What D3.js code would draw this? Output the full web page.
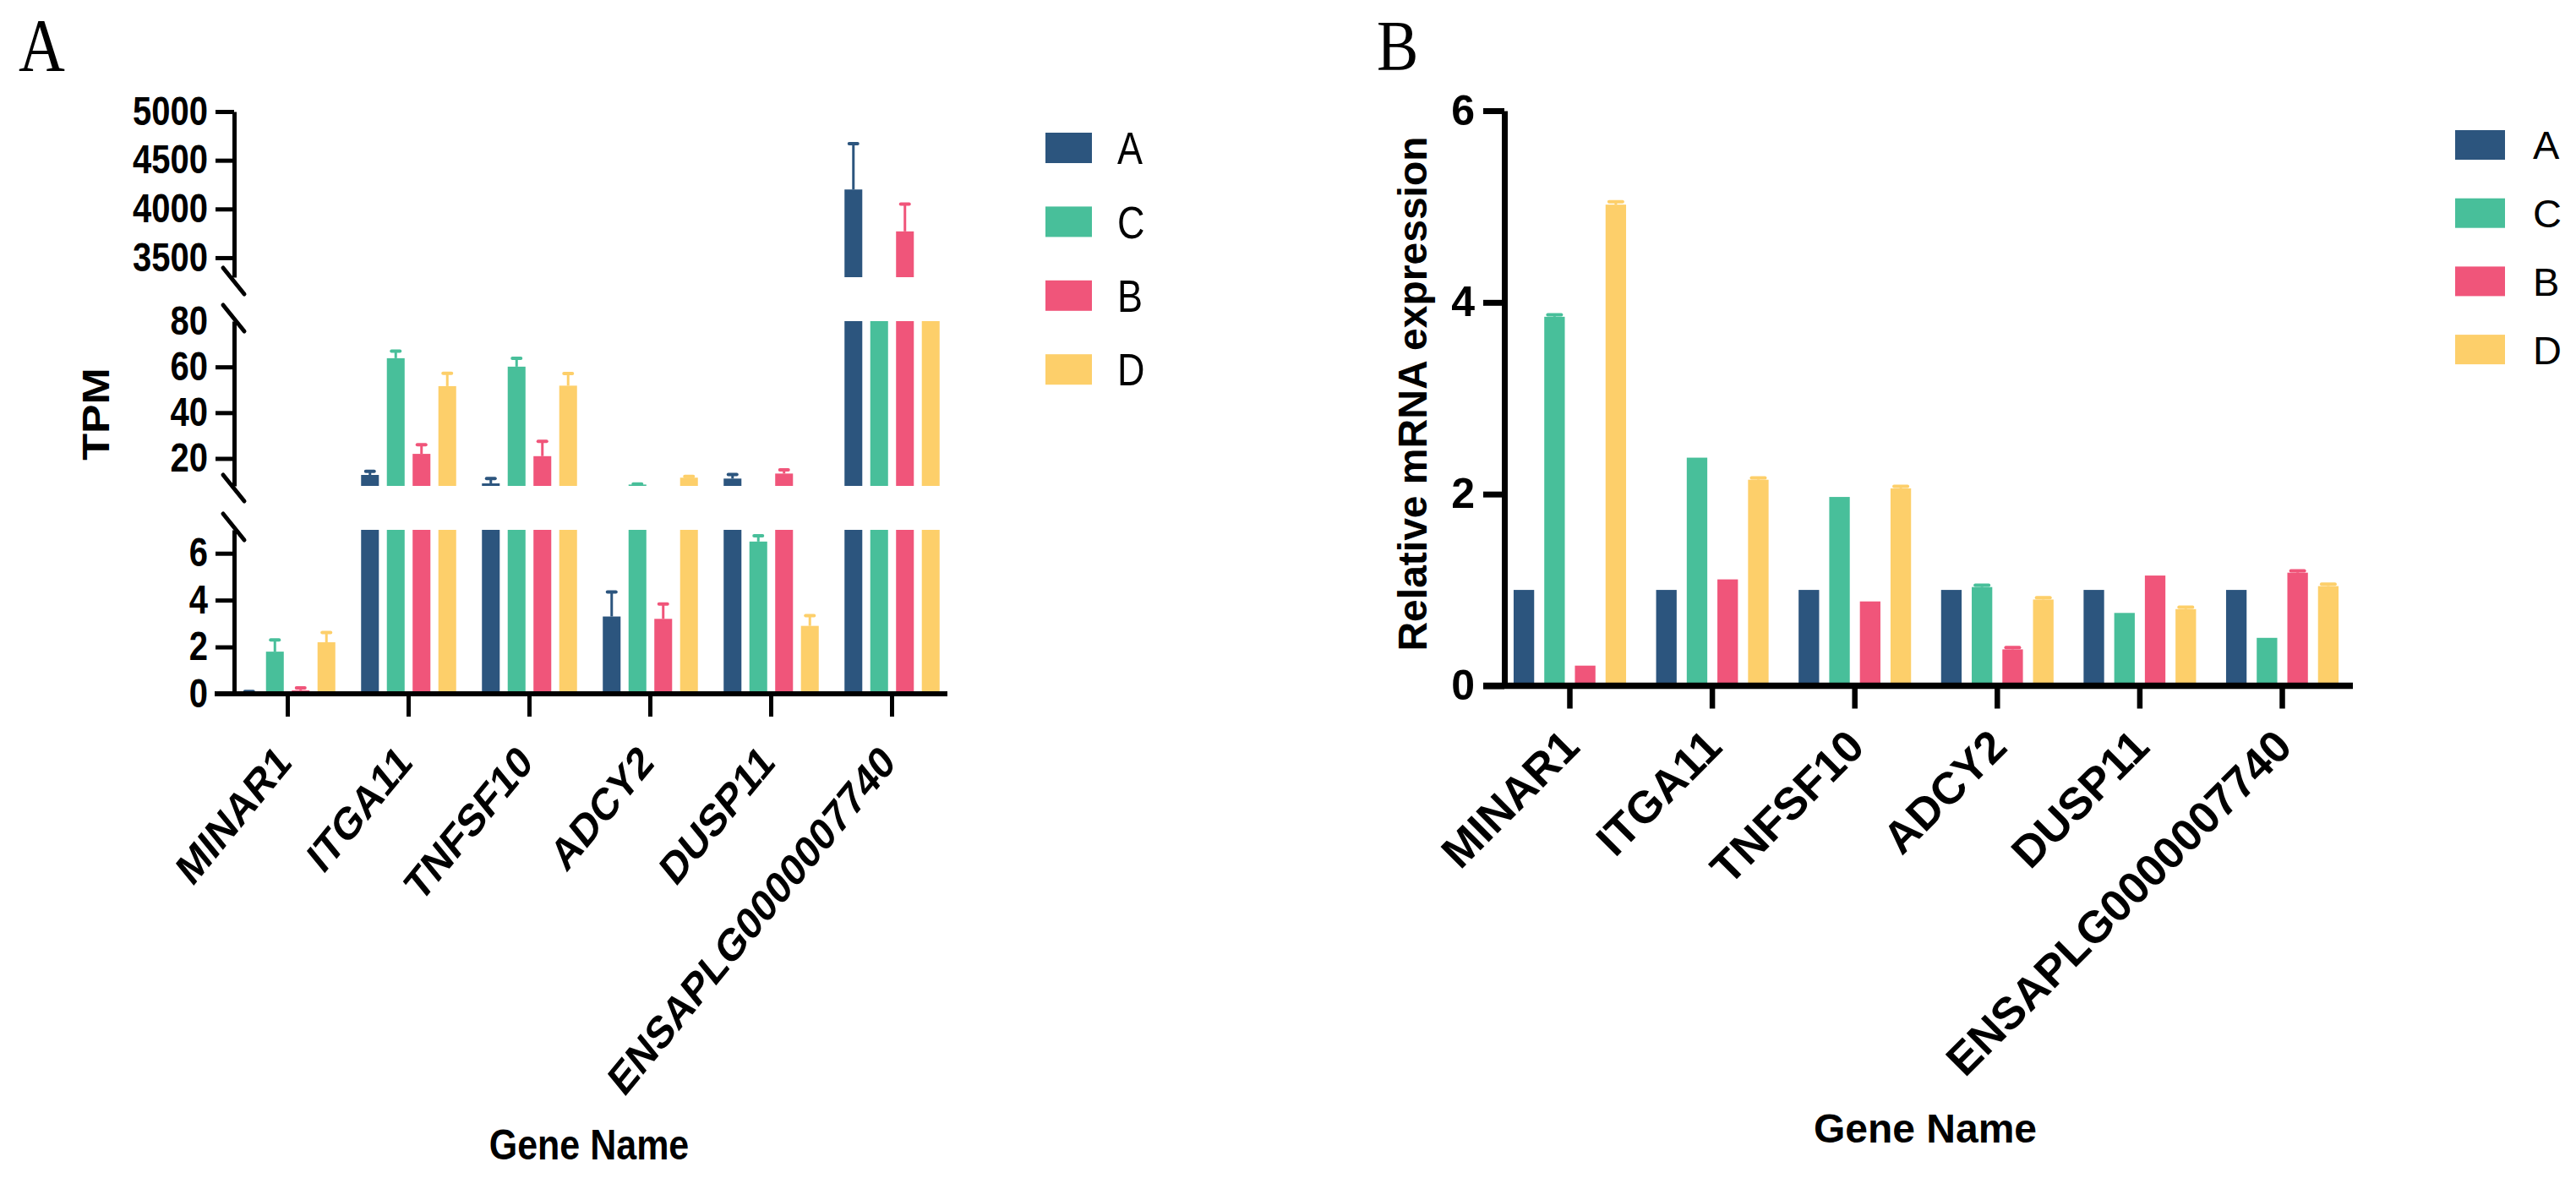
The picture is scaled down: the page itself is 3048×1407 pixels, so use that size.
<!DOCTYPE html>
<html>
<head>
<meta charset="utf-8">
<script src="https://cdn.jsdelivr.net/npm/d3@7"></script>
<style>
  body { margin: 0; background: #fff; }
  svg text { font-family: "Liberation Sans", Arial, sans-serif; fill: #000; }
</style>
</head>
<body>
<div id="viz"></div>
<script>
// genes on the x axis, and the four groups in legend order
var genes = ["MINAR1", "ITGA11", "TNFSF10", "ADCY2", "DUSP11", "ENSAPLG0000007740"];
var groups = ["A", "C", "B", "D"];
var groupColors = ["#2C557E", "#48BF9A", "#F0557A", "#FDCF6A"];

// panel A : TPM (mean, + sd)
var tpmA = [0.05, 12.8, 9.1, 3.3, 11.2, 4200];
var tpmC = [1.8, 63.8, 60.1, 8.6, 6.5, 900];
var tpmB = [0.15, 22.0, 21.0, 3.2, 13.4, 3770];
var tpmD = [2.2, 51.6, 51.8, 11.6, 2.9, 850];
var tpmErrA = [0.05, 1.6, 2.1, 1.05, 1.8, 470];
var tpmErrC = [0.5, 3.1, 3.7, 0.2, 0.25, 0];
var tpmErrB = [0.1, 4.0, 6.5, 0.63, 1.6, 280];
var tpmErrD = [0.42, 5.6, 5.3, 0.6, 0.44, 0];

// broken y axis of panel A : three pieces
var tpmSegments = [[0, 7], [8, 80], [3300, 5000]];
var tpmTicks = [[0, 2, 4, 6], [20, 40, 60, 80], [3500, 4000, 4500, 5000]];

// panel B : relative mRNA expression
var relA = [1, 1, 1, 1, 1, 1];
var relC = [3.85, 2.38, 1.97, 1.03, 0.76, 0.50];
var relB = [0.21, 1.11, 0.88, 0.38, 1.15, 1.18];
var relD = [5.02, 2.15, 2.06, 0.90, 0.80, 1.04];
var relErrA = [0, 0, 0, 0, 0, 0];
var relErrC = [0.02, 0, 0, 0.02, 0, 0];
var relErrB = [0, 0, 0, 0.02, 0, 0.02];
var relErrD = [0.03, 0.02, 0.02, 0.02, 0.02, 0.02];
var relTicks = [0, 2, 4, 6];

// panel A of the original is stretched vertically, its texts too
var SY_A = 1.18;
var SY_A_LABELS = 1.22;

var svg = d3.select("#viz").append("svg")
    .attr("width", 3048)
    .attr("height", 1407);

function stretch(x, y, rot, sy) {
    return "translate(" + x + "," + y + ") scale(1," + sy + ")" + (rot ? " rotate(" + rot + ")" : "");
}

function makeRows(means, errs) {
    return genes.map(function(g, i) {
        return {
            gene: g,
            bars: groups.map(function(k, j) {
                return {key: k, color: groupColors[j], v: means[j][i], e: errs[j][i]};
            })
        };
    });
}

// bars + error bars that fall in [lo, hi] of a y scale
function drawBars(g, rows, x0, x1, y, lo, hi, errW, capW) {
    var grp = g.append("g").selectAll("g")
        .data(rows)
        .enter()
        .append("g")
        .attr("transform", function(d) { return "translate(" + x0(d.gene) + ",0)"; });

    grp.selectAll("rect")
        .data(function(d) { return d.bars.filter(function(b) { return b.v > lo; }); })
        .enter()
        .append("rect")
        .attr("x", function(b) { return x1(b.key); })
        .attr("width", x1.bandwidth())
        .attr("y", function(b) { return y(Math.min(b.v, hi)); })
        .attr("height", function(b) { return y(lo) - y(Math.min(b.v, hi)); })
        .attr("fill", function(b) { return b.color; });

    var errs = function(d) {
        return d.bars.filter(function(b) { return b.e > 0 && b.v < hi && b.v + b.e > lo; });
    };
    var cx = function(b) { return x1(b.key) + x1.bandwidth() / 2; };

    grp.selectAll("line.err")
        .data(errs)
        .enter()
        .append("line")
        .attr("class", "err")
        .attr("x1", cx).attr("x2", cx)
        .attr("y1", function(b) { return y(Math.max(b.v, lo)); })
        .attr("y2", function(b) { return y(Math.min(b.v + b.e, hi)); })
        .attr("stroke", function(b) { return b.color; })
        .attr("stroke-width", errW);

    grp.selectAll("line.cap")
        .data(function(d) { return errs(d).filter(function(b) { return b.v + b.e <= hi; }); })
        .enter()
        .append("line")
        .attr("class", "cap")
        .attr("x1", function(b) { return cx(b) - capW / 2; })
        .attr("x2", function(b) { return cx(b) + capW / 2; })
        .attr("y1", function(b) { return y(b.v + b.e); })
        .attr("y2", function(b) { return y(b.v + b.e); })
        .attr("stroke", function(b) { return b.color; })
        .attr("stroke-width", errW + 1)
        .attr("stroke-linecap", "round");
}

function styleYAxis(a, width, fontSize, sy) {
    a.select(".domain").attr("stroke", "#000").attr("stroke-width", width);
    a.selectAll(".tick line").attr("stroke", "#000").attr("stroke-width", width);
    a.selectAll(".tick text")
        .attr("font-size", fontSize)
        .attr("font-weight", "bold")
        .attr("transform", "scale(1," + sy + ")");
}

function drawXAxis(g, x0, axisY, x1, x2, width, tickLen, labelDx, labelDy, fontSize, sy) {
    g.append("line")
        .attr("x1", x1).attr("x2", x2)
        .attr("y1", axisY).attr("y2", axisY)
        .attr("stroke", "#000")
        .attr("stroke-width", width);

    var a = g.append("g")
        .attr("transform", "translate(0," + axisY + ")")
        .call(d3.axisBottom(x0).tickSize(tickLen).tickSizeOuter(0));
    a.select(".domain").remove();
    a.selectAll(".tick line").attr("stroke", "#000").attr("stroke-width", width - 1);
    a.selectAll(".tick text")
        .attr("x", null).attr("y", null).attr("dy", null)
        .attr("text-anchor", "end")
        .attr("font-size", fontSize)
        .attr("font-weight", "bold")
        .attr("transform", stretch(labelDx, labelDy, -45, sy));
}

function drawLegend(g, x, y, w, h, step, textX, fontSize, sy) {
    var item = g.append("g").selectAll("g")
        .data(groups)
        .enter()
        .append("g")
        .attr("transform", function(d, i) { return "translate(" + x + "," + (y + i * step) + ")"; });

    item.append("rect")
        .attr("width", w)
        .attr("height", h)
        .attr("fill", function(d, i) { return groupColors[i]; });

    item.append("text")
        .attr("transform", stretch(textX - x, h / 2, 0, sy))
        .attr("dy", "0.36em")
        .attr("font-size", fontSize)
        .text(function(d) { return d; });
}

// ---------------- panel A ----------------
function drawPanelA() {
    var g = svg.append("g");
    var rows = makeRows([tpmA, tpmC, tpmB, tpmD], [tpmErrA, tpmErrC, tpmErrB, tpmErrD]);
    var axisX = 277;

    var x0 = d3.scaleBand().domain(genes).range([269, 1127]);
    var x1 = d3.scaleBand().domain(groups).range([0, x0.bandwidth()])
        .paddingInner(0.31).paddingOuter(0.5);

    // pixel ranges of the three pieces (bottom, top)
    var pieces = [[821, 627], [575, 380], [328, 132]];

    tpmSegments.forEach(function(seg, i) {
        var y = d3.scaleLinear().domain(seg).range(pieces[i]);
        drawBars(g, rows, x0, x1, y, seg[0], seg[1], 3, 10);

        var a = g.append("g")
            .attr("transform", "translate(" + axisX + ",0)")
            .call(d3.axisLeft(y).tickValues(tpmTicks[i]).tickFormat(d3.format("d"))
                .tickSize(22).tickPadding(9).tickSizeOuter(0));
        styleYAxis(a, 5, 40, SY_A);
        // 80 sits on the break, no tick mark there
        a.selectAll(".tick").filter(function(d) { return d === 80; }).select("line").remove();
    });

    // break marks
    var breaks = [pieces[0][1] - 4, pieces[1][0] + 2, pieces[1][1] - 4, pieces[2][0] + 4];
    g.selectAll("line.brk")
        .data(breaks)
        .enter()
        .append("line")
        .attr("class", "brk")
        .attr("x1", axisX - 13).attr("x2", axisX + 12)
        .attr("y1", function(d) { return d - 15; })
        .attr("y2", function(d) { return d + 16; })
        .attr("stroke", "#000")
        .attr("stroke-width", 5)
        .attr("stroke-linecap", "round");

    drawXAxis(g, x0, 821, 254, 1121, 6, 27, 6, 84, 44, SY_A_LABELS);

    g.append("text")
        .attr("transform", stretch(129, 490, -90, SY_A))
        .attr("text-anchor", "middle")
        .attr("font-size", 44)
        .attr("font-weight", "bold")
        .text("TPM");

    g.append("text")
        .attr("transform", stretch(697, 1372, 0, SY_A))
        .attr("text-anchor", "middle")
        .attr("font-size", 43)
        .attr("font-weight", "bold")
        .text("Gene Name");

    drawLegend(g, 1237, 157, 55, 36, 87.4, 1322, 45, SY_A);

    g.append("text")
        .attr("transform", stretch(22, 83, 0, SY_A))
        .style("font-family", "'Liberation Serif', 'Times New Roman', serif")
        .attr("font-size", 76)
        .text("A");
}

// ---------------- panel B ----------------
function drawPanelB() {
    var g = svg.append("g");
    var rows = makeRows([relA, relC, relB, relD], [relErrA, relErrC, relErrB, relErrD]);
    var axisX = 1780;

    var x0 = d3.scaleBand().domain(genes).range([1773.2, 2784.8]);
    var x1 = d3.scaleBand().domain(groups).range([0, x0.bandwidth()])
        .paddingInner(0.33).paddingOuter(0.49);
    var y = d3.scaleLinear().domain([0, 6]).range([811.5, 131]);

    drawBars(g, rows, x0, x1, y, 0, 6, 3, 16);

    var a = g.append("g")
        .attr("transform", "translate(" + axisX + ",0)")
        .call(d3.axisLeft(y).tickValues(relTicks).tickFormat(d3.format("d"))
            .tickSize(25).tickPadding(10).tickSizeOuter(0));
    styleYAxis(a, 7, 50, 1);

    drawXAxis(g, x0, 811.5, 1755, 2784, 7.5, 27, 14, 75, 53, 1);

    g.append("text")
        .attr("transform", stretch(1688, 466, -90, 1))
        .attr("text-anchor", "middle")
        .attr("font-size", 48)
        .attr("font-weight", "bold")
        .text("Relative mRNA expression");

    g.append("text")
        .attr("transform", stretch(2278, 1352, 0, 1))
        .attr("text-anchor", "middle")
        .attr("font-size", 48)
        .attr("font-weight", "bold")
        .text("Gene Name");

    drawLegend(g, 2905, 154, 59, 35, 80.7, 2997, 47, 1);

    g.append("text")
        .attr("transform", stretch(1629, 83, 0, 1.15))
        .style("font-family", "'Liberation Serif', 'Times New Roman', serif")
        .attr("font-size", 74)
        .text("B");
}

drawPanelA();
drawPanelB();
</script>
</body>
</html>
